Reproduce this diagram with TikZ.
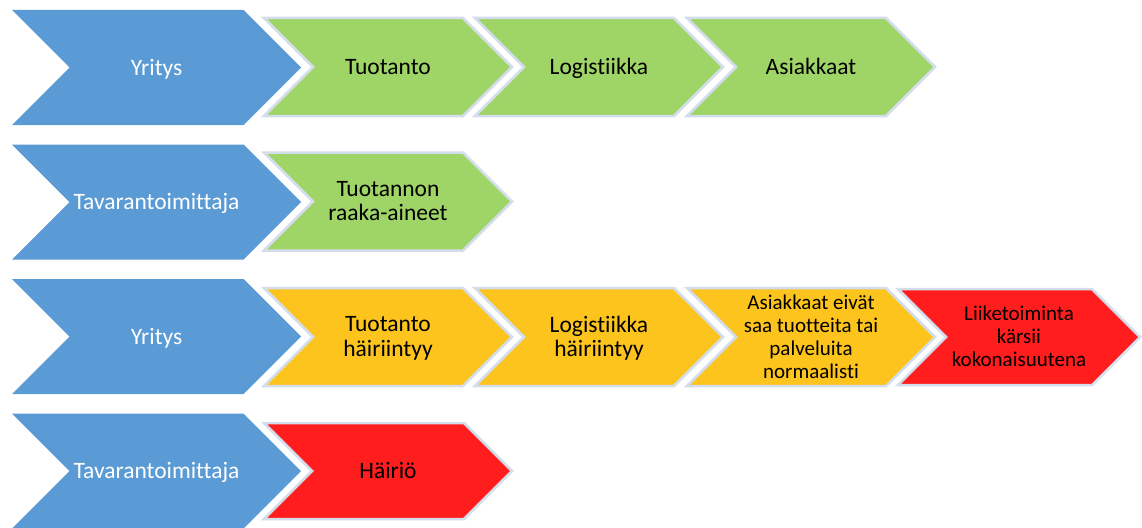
\documentclass[tikz,border=0pt]{standalone}
\usepackage{fontspec}
\setmainfont{Carlito}[Ligatures={NoCommon}]
\definecolor{cblue}{HTML}{5B9BD5}
\definecolor{cgreen}{HTML}{9FD466}
\definecolor{corange}{HTML}{FCC41C}
\definecolor{cred}{HTML}{FF1D1D}
\definecolor{cedge}{HTML}{D3DDEB}
\newcommand{\chevshape}[5]{%
  \path[#5] (#1,#2-#4) -- (#1+#3-#4,#2-#4) -- (#1+#3,#2) -- (#1+#3-#4,#2+#4) -- (#1,#2+#4) -- (#1+#4,#2) -- cycle;}
\tikzset{
  bluechev/.style={fill=cblue},
  greenchev/.style={fill=cgreen,draw=cedge,line width=2.5pt,line join=miter},
  orangechev/.style={fill=corange,draw=cedge,line width=2.5pt,line join=miter},
  redchev/.style={fill=cred,draw=cedge,line width=2.5pt,line join=miter},
  anytxt/.style={align=center,inner sep=0pt,yshift=-3pt,execute at begin node=\strut,execute at end node=\strut},
  bluetxt/.style={anytxt,text=white,font=\fontsize{23.5}{24}\selectfont},
  darktxt/.style={anytxt,text=black,font=\fontsize{23.5}{24.5}\selectfont},
  smalltxt/.style={anytxt,text=black,font=\fontsize{21}{23}\selectfont}
}
\begin{document}
\begin{tikzpicture}[x=1pt,y=-1pt]
\useasboundingbox (0,0) rectangle (1142,527);
% row 1
\chevshape{12}{67.5}{289}{57.5}{bluechev}
\chevshape{264}{67}{248}{49}{greenchev}
\chevshape{475}{67}{248}{49}{greenchev}
\chevshape{687}{67}{248}{49}{greenchev}
\node[bluetxt] (r1a) at (156.5,67.5) {Yritys};
\node[darktxt] (r1b) at (388,67) {Tuotanto};
\node[darktxt] (r1c) at (599,67) {Logistiikka};
\node[darktxt] (r1d) at (811,67) {Asiakkaat};
% row 2
\chevshape{12}{202}{289}{57.5}{bluechev}
\chevshape{264}{201.5}{248}{49}{greenchev}
\node[bluetxt] (r2a) at (156.5,202) {Tavarantoimittaja};
\node[darktxt] (r2b) at (388,201.5) {Tuotannon\\raaka-aineet};
% row 3
\chevshape{12}{336.5}{289}{57.5}{bluechev}
\chevshape{264}{337}{248}{49}{orangechev}
\chevshape{475}{337}{248}{49}{orangechev}
\chevshape{687}{337}{248}{49}{orangechev}
\chevshape{898}{337}{242}{48}{redchev}
\node[bluetxt] (r3a) at (156.5,336.5) {Yritys};
\node[darktxt] (r3b) at (388,337) {Tuotanto\\häiriintyy};
\node[darktxt] (r3c) at (599,337) {Logistiikka\\häiriintyy};
\node[smalltxt] (r3d) at (811,337) {Asiakkaat eivät\\saa tuotteita tai\\palveluita\\normaalisti};
\node[smalltxt] (r3e) at (1019,337) {Liiketoiminta\\kärsii\\kokonaisuutena};
% row 4
\chevshape{12}{471}{289}{57.5}{bluechev}
\chevshape{264}{471}{248}{48}{redchev}
\node[bluetxt] (r4a) at (156.5,471) {Tavarantoimittaja};
\node[darktxt] (r4b) at (388,471) {Häiriö};
\end{tikzpicture}
\end{document}
